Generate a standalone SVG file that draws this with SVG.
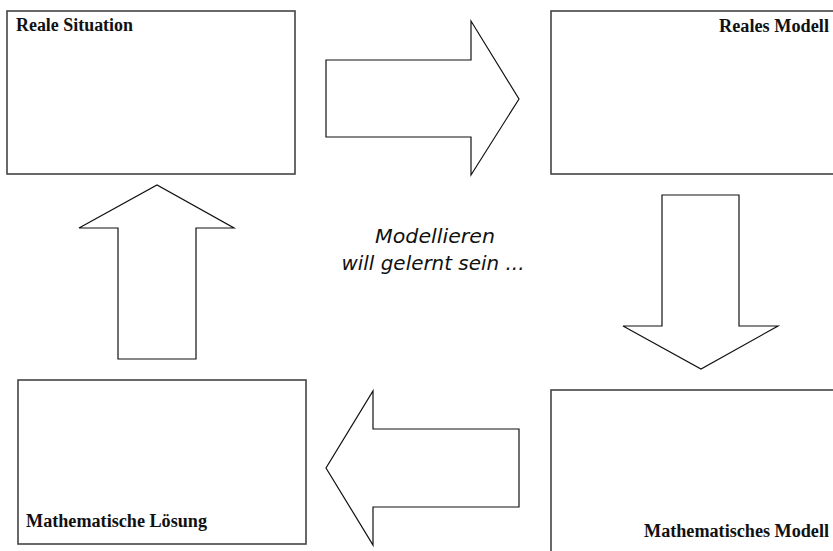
<svg xmlns="http://www.w3.org/2000/svg" width="833" height="551" viewBox="0 0 833 551">
<style>
.box{fill:#fff;stroke:#444;stroke-width:1.6}
.arr{fill:#fff;stroke:#111;stroke-width:1.2;stroke-linejoin:miter}
.lbl{font-family:"Liberation Serif","Times New Roman",serif;font-weight:bold;font-size:18px;fill:#111}
.mid{font-family:"DejaVu Sans","Open Sans",sans-serif;font-style:italic;font-size:20px;fill:#111}
</style>
<rect width="833" height="551" fill="#fff"/>
<g id="node-reale-situation">
<rect class="box" x="7" y="11" width="288" height="163"/>
<text class="lbl" x="16" y="31" textLength="117" lengthAdjust="spacingAndGlyphs">Reale Situation</text>
</g>
<g id="node-reales-modell">
<rect class="box" x="551" y="11" width="290" height="163"/>
<text class="lbl" x="719" y="32" textLength="110" lengthAdjust="spacingAndGlyphs">Reales Modell</text>
</g>
<g id="node-mathematische-loesung">
<rect class="box" x="18" y="380" width="288" height="164"/>
<text class="lbl" x="26" y="527" textLength="181" lengthAdjust="spacingAndGlyphs">Mathematische Lösung</text>
</g>
<g id="node-mathematisches-modell">
<rect class="box" x="551" y="390" width="290" height="170"/>
<text class="lbl" x="644" y="537" textLength="185" lengthAdjust="spacingAndGlyphs">Mathematisches Modell</text>
</g>
<g id="connectors">
<polygon class="arr" points="326,60 471,60 471,21 519,99 471,175 471,137 326,137"/>
<polygon class="arr" points="662,195 739,195 739,326 778,326 701,369 623,326 662,326"/>
<polygon class="arr" points="519,429 373,429 373,391 326,468 373,545 373,507 519,507"/>
<polygon class="arr" points="118,359 118,228 79,228 157,185 234,228 196,228 196,359"/>
</g>
<g id="caption">
<text class="mid" x="435" y="243" text-anchor="middle" textLength="120" lengthAdjust="spacingAndGlyphs">Modellieren</text>
<text class="mid" x="433" y="270" text-anchor="middle" textLength="183" lengthAdjust="spacingAndGlyphs">will gelernt sein ...</text>
</g>
</svg>
